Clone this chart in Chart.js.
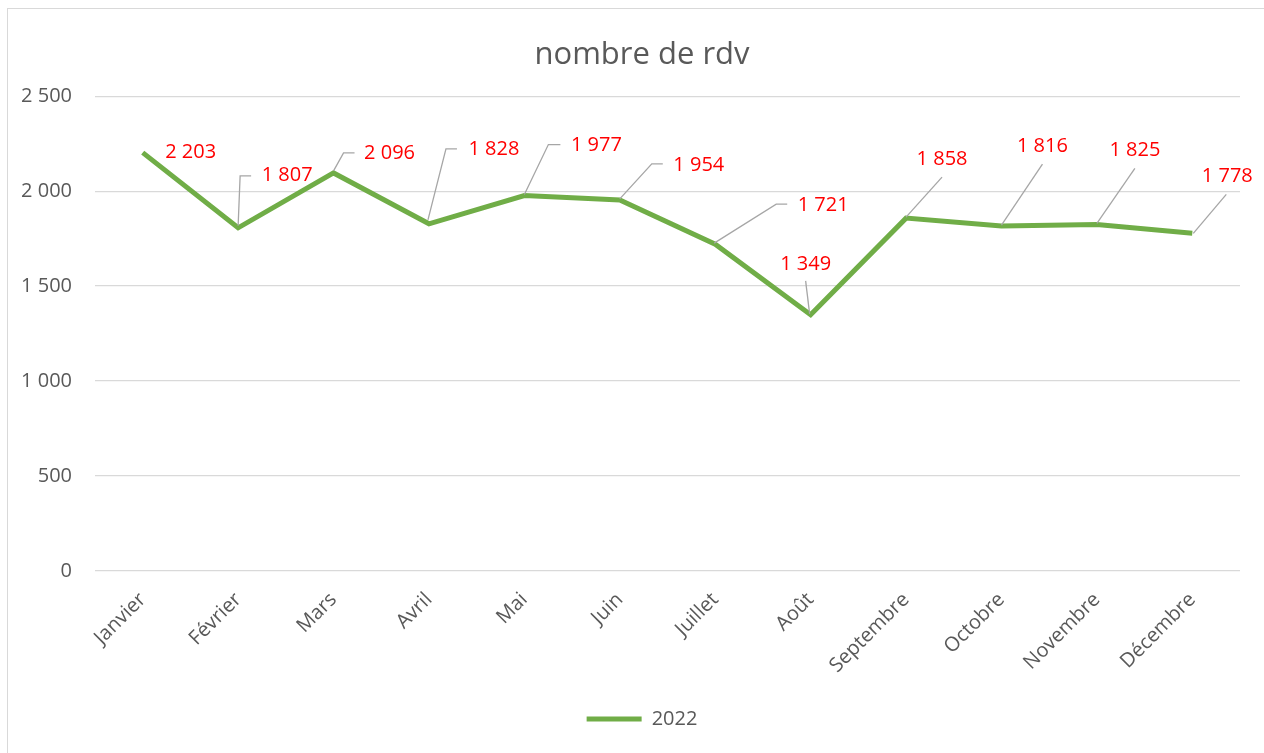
<!DOCTYPE html>
<html lang="fr">
<head>
<meta charset="UTF-8">
<title>nombre de rdv</title>
<script src="https://cdn.jsdelivr.net/npm/chart.js"></script>
<style>
  body { margin: 0; background: #fff; overflow: hidden; }
  #cadre { position: absolute; left: 7px; top: 8px; width: 1300px; height: 800px; border-left: 1px solid #d9d9d9; border-top: 1px solid #d9d9d9; }
  #zone { position: absolute; left: 0; top: 0; width: 1284px; height: 753px; }
</style>
</head>
<body>
<div id="cadre"></div>
<div id="zone"><canvas id="graphique"></canvas></div>
<script>
const mois = ['Janvier', 'Février', 'Mars', 'Avril', 'Mai', 'Juin', 'Juillet', 'Août', 'Septembre', 'Octobre', 'Novembre', 'Décembre'];
const rdv2022 = [2203, 1807, 2096, 1828, 1977, 1954, 1721, 1349, 1858, 1816, 1825, 1778];
const ticksY = [0, 500, 1000, 1500, 2000, 2500];

// position des étiquettes par rapport au point (texte + trait de rappel)
const decalages = [
  { tx: 48, ty: 0, trait: [] },
  { tx: 49, ty: -53, trait: [[0, -2], [2, -52], [13, -52]] },
  { tx: 56, ty: -20, trait: [[0, -2], [10, -20], [21, -20]] },
  { tx: 65, ty: -75, trait: [[-1, -4], [17, -75], [28, -75]] },
  { tx: 72, ty: -50, trait: [[0, -1], [24, -51], [36, -51]] },
  { tx: 79, ty: -35, trait: [[0, -1], [32, -36], [43, -36]] },
  { tx: 108, ty: -39, trait: [[-1, -1], [61, -40], [72, -40]] },
  { tx: -5, ty: -51, trait: [[-1, -1], [-5, -34]] },
  { tx: 36, ty: -59, trait: [[0, -1], [36, -41]] },
  { tx: 41, ty: -80, trait: [[0, -1], [41, -62]] },
  { tx: 38, ty: -74, trait: [[0, -1], [38, -56]] },
  { tx: 35, ty: -57, trait: [[1, 0], [34, -39]] }
];

function formate(v) {
  return String(v).replace(/\B(?=(\d{3})+(?!\d))/g, ' ');
}

const etiquettes = {
  id: 'etiquettes',
  afterDatasetsDraw(chart) {
    const ctx = chart.ctx;
    const pts = chart.getDatasetMeta(0).data;
    ctx.save();
    pts.forEach((p, i) => {
      const d = decalages[i];
      if (d.trait.length) {
        ctx.beginPath();
        d.trait.forEach(([dx, dy], k) => {
          if (k) ctx.lineTo(p.x + dx, p.y + dy); else ctx.moveTo(p.x + dx, p.y + dy);
        });
        ctx.strokeStyle = '#a6a6a6';
        ctx.lineWidth = 1.3;
        ctx.stroke();
      }
      ctx.fillStyle = '#ff0000';
      ctx.font = '20px "Open Sans"';
      ctx.textAlign = 'center';
      ctx.textBaseline = 'middle';
      ctx.fillText(formate(rdv2022[i]), p.x + d.tx, p.y + d.ty);
    });
    ctx.restore();
  }
};

const ctx = document.getElementById('graphique').getContext('2d');
new Chart(ctx, {
  type: 'line',
  data: {
    labels: mois,
    datasets: [{
      label: '2022',
      data: rdv2022,
      borderColor: '#70ad47',
      backgroundColor: '#70ad47',
      borderWidth: 5,
      pointRadius: 0,
      tension: 0
    }]
  },
  options: {
    responsive: true,
    maintainAspectRatio: false,
    animation: false,
    layout: { padding: { left: 0, right: 0, top: 0, bottom: 14 } },
    plugins: {
      title: {
        display: true,
        text: 'nombre de rdv',
        color: '#595959',
        font: { family: 'Open Sans', size: 31, weight: 'normal' },
        padding: { top: 37, bottom: 22 }
      },
      legend: {
        position: 'bottom',
        labels: {
          color: '#595959',
          font: { family: 'Open Sans', size: 20 },
          usePointStyle: true,
          pointStyle: 'line',
          pointStyleWidth: 55,
          padding: 10
        }
      },
      tooltip: { enabled: false }
    },
    scales: {
      x: {
        offset: true,
        grid: { display: false },
        border: { display: false },
        ticks: {
          color: '#595959',
          font: { family: 'Open Sans', size: 20 },
          minRotation: 45,
          maxRotation: 45,
          padding: 9
        },
        afterFit(scale) { scale.height = 128; }
      },
      y: {
        min: 0,
        max: 2500,
        grid: { color: '#d9d9d9', lineWidth: 1.3, drawTicks: false },
        border: { display: false },
        ticks: {
          color: '#595959',
          font: { family: 'Open Sans', size: 20 },
          padding: 23,
          callback: v => formate(v)
        },
        afterBuildTicks(scale) { scale.ticks = ticksY.map(v => ({ value: v })); },
        afterFit(scale) { scale.width = 95; }
      },
      // axe vide à droite pour garder le titre et la légende centrés comme l'original
      marge: {
        type: 'linear',
        axis: 'y',
        position: 'right',
        grid: { drawOnChartArea: false, drawTicks: false },
        border: { display: false },
        ticks: { display: false },
        afterFit(scale) { scale.width = 44; }
      }
    }
  },
  plugins: [etiquettes]
});
</script>
</body>
</html>
